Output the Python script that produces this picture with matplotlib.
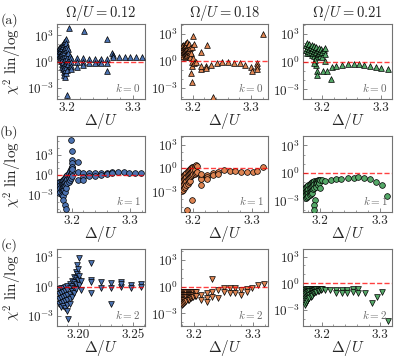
import numpy as np
import matplotlib
matplotlib.use('Agg')
from matplotlib import pyplot as plt
from matplotlib.ticker import FixedLocator, MultipleLocator, NullFormatter, LogFormatterSciNotation

plt.rcParams['font.family'] = 'serif'
plt.rcParams['font.serif'] = ['cmr10', 'DejaVu Serif']
plt.rcParams['mathtext.fontset'] = 'cm'
plt.rcParams['axes.formatter.use_mathtext'] = True

# ---- data: Delta/U and log10(chi^2) for each panel ----
# row 1 (k = 0)
delta_a = [3.187, 3.187, 3.188, 3.188, 3.189, 3.189, 3.189, 3.190, 3.190, 3.190, 3.191, 3.191, 3.191,
           3.192, 3.192, 3.192, 3.192, 3.193, 3.193, 3.193, 3.193, 3.194, 3.194, 3.194, 3.194,
           3.195, 3.195, 3.195, 3.195, 3.195, 3.196, 3.196, 3.196, 3.196, 3.197, 3.197, 3.197, 3.197, 3.197,
           3.198, 3.198, 3.198, 3.198, 3.199, 3.199, 3.199, 3.200, 3.200, 3.200, 3.201, 3.201, 3.202, 3.202,
           3.204, 3.204,
           3.200, 3.203, 3.226, 3.260, 3.260, 3.248,
           3.206, 3.206, 3.206, 3.206, 3.215, 3.215, 3.215, 3.224, 3.224, 3.224, 3.233, 3.233, 3.242, 3.242,
           3.251, 3.251, 3.260, 3.260,
           3.268, 3.269, 3.270, 3.279, 3.288, 3.296, 3.305, 3.314]
logchi_a = [1.3, 0.9, 1.6, 0.6, 1.4, 1.0, 0.3, 1.7, 1.2, 0.7, 1.5, 0.9, 0.1,
            1.9, 1.3, 0.5, -0.3, 1.6, 1.0, 0.2, -0.6, 1.8, 1.2, -0.1, -0.9,
            2.0, 1.4, 0.6, -0.4, -1.2, 2.2, 1.1, -0.7, -1.5, 2.4, 1.6, 0.3, -1.0, -1.8,
            2.6, 1.3, -0.2, -1.3, 2.1, 0.8, -0.6, 1.7, 0.4, -1.0, 1.4, 0.1, 1.0, -0.3,
            0.6, -0.5,
            -3.8, 3.86, 3.5, 2.55, -1.07, 0.0,
            0.4, -0.1, -0.5, -0.9, 0.35, -0.1, -0.6, 0.35, -0.1, -0.4, 0.3, -0.15, 0.3, -0.15,
            0.3, -0.2, 0.3, -0.2,
            1.0, 0.75, 0.5, 0.55, 0.5, 0.5, 0.5, 0.5]

delta_b = [3.181, 3.181, 3.182, 3.182, 3.182, 3.183, 3.183, 3.184, 3.184, 3.184, 3.185, 3.185,
           3.186, 3.186, 3.186, 3.187, 3.187, 3.187, 3.188, 3.188, 3.188, 3.189, 3.189, 3.189,
           3.190, 3.190, 3.191, 3.191, 3.191, 3.192, 3.192, 3.193, 3.193, 3.194, 3.194, 3.195, 3.195,
           3.196, 3.197, 3.198,
           3.200, 3.202, 3.224, 3.214, 3.198, 3.199, 3.197, 3.199, 3.234, 3.201, 3.203,
           3.205, 3.214, 3.214, 3.222, 3.222, 3.231, 3.241, 3.251, 3.261, 3.271, 3.281, 3.290,
           3.300, 3.301, 3.310, 3.311, 3.311,
           3.320]
logchi_b = [1.4, 1.0, 1.7, 1.2, 0.7, 1.5, 1.0, 1.8, 1.3, 0.6, 1.6, 1.1,
            1.9, 1.4, 0.8, 1.7, 1.2, 0.5, 2.0, 1.5, 0.9, 1.8, 1.3, 0.6,
            1.6, 1.0, 2.1, 1.4, 0.7, 1.8, 1.1, 1.5, 0.8, 1.9, 1.2, 1.0, 0.4,
            1.4, 0.9, 1.6,
            2.8, 1.9, 1.8, 1.0, -0.15, -0.5, -1.3, -2.3, -4.0, 0.3, -0.2,
            -0.1, -0.86, -0.6, -0.57, -0.8, -0.4, -0.2, -0.1, -0.1, -0.2, -0.25, -0.45,
            -0.7, -1.1, -0.25, -0.55, -0.85,
            3.0]

delta_c = [3.172, 3.172, 3.174, 3.174, 3.174, 3.176, 3.176, 3.178, 3.178, 3.178, 3.180, 3.180,
           3.182, 3.182, 3.182, 3.184, 3.184, 3.186, 3.186, 3.186, 3.188, 3.188, 3.190, 3.190, 3.190,
           3.192, 3.192, 3.194, 3.194, 3.196, 3.196, 3.198, 3.198, 3.200, 3.200, 3.203, 3.205, 3.205, 3.205,
           3.190, 3.191, 3.191, 3.202, 3.208, 3.214, 3.188, 3.186,
           3.216, 3.224, 3.233, 3.243, 3.254, 3.263, 3.271, 3.282, 3.291, 3.301, 3.312]
logchi_c = [1.8, 1.3, 2.0, 1.5, 1.0, 1.7, 1.2, 1.9, 1.4, 0.9, 1.6, 1.1,
            1.8, 1.3, 0.7, 1.5, 1.0, 1.7, 1.2, 0.6, 1.4, 0.9, 1.6, 1.1, 0.5,
            1.3, 0.8, 1.5, 1.0, 1.2, 0.6, 1.4, 0.9, 1.1, 0.5, 1.3, 1.5, 0.8, 0.1,
            -0.4, -1.0, -1.45, -1.0, -1.0, -1.9, 0.2, -0.1,
            -0.6, -0.43, -0.36, -0.25, -0.25, -0.25, -0.33, -0.43, -0.54, -0.68, -0.8]

# row 2 (k = 1)
delta_d = [3.177, 3.177, 3.177, 3.179, 3.179, 3.179, 3.179, 3.181, 3.181, 3.181, 3.181,
           3.183, 3.183, 3.183, 3.183, 3.183, 3.185, 3.185, 3.185, 3.185, 3.185,
           3.187, 3.187, 3.187, 3.187, 3.189, 3.189, 3.189, 3.189, 3.191, 3.191, 3.191, 3.191,
           3.193, 3.193, 3.193, 3.195, 3.195, 3.195, 3.197, 3.197, 3.197, 3.199, 3.199, 3.199,
           3.201, 3.201, 3.201,
           3.199, 3.201, 3.201, 3.201, 3.201, 3.201, 3.211, 3.211, 3.211,
           3.186, 3.188, 3.191,
           3.220, 3.230, 3.240, 3.250, 3.260, 3.270, 3.280, 3.290, 3.299, 3.309, 3.319,
           3.220, 3.220, 3.230, 3.240, 3.250, 3.260, 3.270]
logchi_d = [-1.3, -1.9, -2.4, -1.1, -1.6, -2.1, -2.7, -1.0, -1.5, -2.0, -2.5,
            -0.9, -1.4, -1.9, -2.4, -2.9, -0.8, -1.3, -1.8, -2.3, -3.1,
            -0.6, -1.2, -1.7, -2.2, -0.4, -1.0, -1.6, -2.6, -0.2, -0.8, -1.4, -2.0,
            0.0, -0.6, -1.2, 0.3, -0.4, -1.0, 0.6, -0.2, -0.8, 0.9, 0.1, -0.5,
            1.2, 0.4, -0.2,
            5.2, 3.5, 2.2, 1.75, 1.24, 0.85, 2.0, 0.5, -0.75,
            -3.7, -4.5, -5.0,
            0.35, 0.25, 0.25, 0.25, 0.35, 0.5, 0.5, 0.4, 0.35, 0.35, 0.3,
            -0.25, -0.75, -0.15, -0.15, 0.0, 0.1, 0.3]

delta_e = [3.181, 3.181, 3.181, 3.181, 3.183, 3.183, 3.183, 3.183, 3.185, 3.185, 3.185, 3.185,
           3.187, 3.187, 3.187, 3.187, 3.189, 3.189, 3.189, 3.189, 3.191, 3.191, 3.191, 3.191,
           3.193, 3.193, 3.193, 3.193, 3.195, 3.195, 3.195, 3.195, 3.197, 3.197, 3.197,
           3.199, 3.199, 3.199, 3.201, 3.201, 3.201, 3.203, 3.203, 3.203, 3.205, 3.205, 3.207, 3.207,
           3.198, 3.190, 3.214,
           3.214, 3.224, 3.234, 3.243, 3.253, 3.263, 3.272, 3.281, 3.291, 3.301, 3.309, 3.319,
           3.214, 3.224, 3.224, 3.234, 3.243, 3.214]
logchi_e = [-1.2, -1.8, -2.4, -2.9, -1.0, -1.6, -2.2, -2.8, -0.9, -1.4, -2.0, -2.6,
            -0.7, -1.2, -1.8, -2.4, -0.6, -1.1, -1.6, -2.2, -0.4, -0.9, -1.4, -2.0,
            -0.3, -0.8, -1.3, -1.8, -0.1, -0.6, -1.1, -1.6, 0.0, -0.5, -1.0,
            0.1, -0.4, -0.9, 0.2, -0.3, -0.8, 0.3, -0.2, -0.7, 0.35, -0.6, 0.3, -0.5,
            -4.1, -5.3, -2.2,
            -1.1, -0.9, -0.6, -0.47, -0.26, -0.35, -0.43, -0.47, -0.55, -0.55, -0.35, 0.17,
            -1.45, -1.1, -1.35, -0.9, -0.7, -0.8]

delta_f = [3.175, 3.175, 3.175, 3.177, 3.177, 3.177, 3.177, 3.179, 3.179, 3.179, 3.179,
           3.181, 3.181, 3.181, 3.181, 3.183, 3.183, 3.183, 3.183, 3.185, 3.185, 3.185, 3.185,
           3.187, 3.187, 3.187, 3.187, 3.189, 3.189, 3.189, 3.191, 3.191, 3.191, 3.193, 3.193, 3.193,
           3.195, 3.195, 3.197, 3.197, 3.199, 3.199, 3.201, 3.201, 3.203,
           3.192, 3.191, 3.190,
           3.208, 3.218, 3.227, 3.236, 3.246, 3.256, 3.264, 3.273, 3.283, 3.293, 3.303, 3.312]
logchi_f = [-1.6, -2.0, -2.4, -1.5, -1.9, -2.3, -2.7, -1.4, -1.8, -2.2, -2.6,
            -1.3, -1.7, -2.1, -2.5, -1.2, -1.6, -2.0, -2.4, -1.1, -1.5, -1.9, -2.3,
            -1.0, -1.4, -1.8, -2.2, -1.0, -1.3, -1.7, -0.9, -1.2, -1.6, -0.9, -1.2, -1.5,
            -0.85, -1.1, -0.8, -1.3, -0.8, -1.1, -0.8, -1.6, -0.8,
            -2.9, -3.4, -4.0,
            -0.83, -0.75, -0.68, -0.65, -0.57, -0.5, -0.46, -0.5, -0.65, -0.94, -1.29, -2.47]

# row 3 (k = 2)
delta_g = [3.182, 3.182, 3.182, 3.182, 3.184, 3.184, 3.184, 3.184, 3.184, 3.186, 3.186, 3.186, 3.186, 3.186,
           3.188, 3.188, 3.188, 3.188, 3.188, 3.190, 3.190, 3.190, 3.190, 3.190, 3.190,
           3.192, 3.192, 3.192, 3.192, 3.192, 3.194, 3.194, 3.194, 3.194, 3.196, 3.196, 3.196, 3.196,
           3.198, 3.198, 3.198, 3.198, 3.199, 3.199, 3.200, 3.200, 3.201, 3.201, 3.202, 3.202,
           3.2006, 3.2115, 3.2115, 3.2115, 3.2115, 3.2297, 3.1909,
           3.2206, 3.2294, 3.2385, 3.2479, 3.2570, 3.2206, 3.2294, 3.2385, 3.2385, 3.2479, 3.2570]
logchi_g = [-0.3, -0.8, -1.3, -1.8, -0.2, -0.7, -1.2, -1.7, -2.1, -0.1, -0.6, -1.1, -1.6, -2.0,
            0.0, -0.5, -1.0, -1.5, -2.2, 0.1, -0.4, -0.9, -1.4, -1.9, -2.5,
            0.3, -0.2, -0.8, -1.3, -1.8, 0.6, 0.1, -0.5, -1.1, 1.0, 0.5, -0.1, -0.7,
            1.5, 0.9, 0.3, -0.3, 2.2, 1.3, 1.8, 0.7, 1.1, 0.2, 0.6, -0.4,
            2.9, 2.36, 0.68, 0.45, -0.67, -1.78, -3.26,
            0.5, 0.34, 0.44, 0.17, 0.24, -0.1, -0.16, 0.0, 0.25, -0.1, 0.0]

delta_h = [3.179, 3.179, 3.179, 3.179, 3.179, 3.181, 3.181, 3.181, 3.181, 3.181,
           3.183, 3.183, 3.183, 3.183, 3.183, 3.185, 3.185, 3.185, 3.185, 3.187, 3.187, 3.187, 3.187,
           3.189, 3.189, 3.189, 3.189, 3.191, 3.191, 3.191, 3.191, 3.193, 3.193, 3.193,
           3.195, 3.195, 3.195, 3.197, 3.197, 3.197, 3.199, 3.199, 3.199, 3.201, 3.201, 3.203, 3.203,
           3.231,
           3.212, 3.212, 3.222, 3.222, 3.222, 3.231, 3.231, 3.241, 3.241, 3.250, 3.250, 3.260, 3.260,
           3.270, 3.270, 3.279, 3.279, 3.289, 3.289, 3.298, 3.308, 3.319]
logchi_h = [-0.6, -0.9, -1.2, -1.6, -2.0, -0.6, -0.9, -1.2, -1.5, -1.9,
            -0.6, -0.9, -1.2, -1.5, -1.8, -0.6, -0.9, -1.2, -1.7, -0.6, -0.9, -1.2, -1.6,
            -0.6, -0.9, -1.2, -1.5, -0.6, -0.9, -1.2, -1.45, -0.6, -0.9, -1.3,
            -0.6, -0.9, -1.25, -0.6, -0.9, -1.2, -0.6, -0.9, -1.15, -0.6, -1.1, -0.6, -1.05,
            0.83,
            -0.93, -1.5, -0.74, -1.3, -1.7, -0.56, -1.12, -0.37, -1.3, -0.18, -0.56, -0.18, -0.74,
            -0.18, -0.74, -0.37, -0.93, -0.26, -0.56, -0.11, 0.19, 0.27]

delta_i = [3.171, 3.171, 3.171, 3.171, 3.173, 3.173, 3.173, 3.173, 3.175, 3.175, 3.175, 3.175,
           3.177, 3.177, 3.177, 3.177, 3.179, 3.179, 3.179, 3.179, 3.181, 3.181, 3.181, 3.181,
           3.183, 3.183, 3.183, 3.183, 3.185, 3.185, 3.185, 3.187, 3.187, 3.187, 3.189, 3.189, 3.189,
           3.191, 3.191, 3.193, 3.193, 3.195, 3.195, 3.197, 3.199, 3.199, 3.201,
           3.206, 3.214, 3.224, 3.224, 3.234, 3.234, 3.243, 3.243, 3.253, 3.253, 3.262, 3.262,
           3.274, 3.286, 3.294, 3.303, 3.314]
logchi_i = [-0.7, -1.2, -1.8, -2.4, -0.65, -1.1, -1.6, -2.2, -0.6, -1.0, -1.5, -2.0,
            -0.6, -1.0, -1.4, -1.8, -0.6, -0.9, -1.3, -1.7, -0.6, -0.9, -1.2, -1.5,
            -0.6, -0.85, -1.15, -1.4, -0.6, -0.85, -1.1, -0.6, -0.8, -1.05, -0.6, -0.8, -1.0,
            -0.6, -0.95, -0.6, -0.9, -0.6, -0.85, -0.6, -0.6, -0.8, -0.65,
            -0.75, -0.75, -0.75, -1.12, -0.75, -1.12, -0.75, -1.06, -0.67, -0.94, -0.67, -1.06,
            -1.12, -2.25, -1.5, -1.01, -4.2]

omegas = ['0.12', '0.18', '0.21']
ks = [0, 1, 2]
row_letters = ['(a)', '(b)', '(c)']
colors = ['#4C72B0', '#DD8452', '#55A868']
markers = ['^', 'o', 'v']

panels = [[(delta_a, logchi_a), (delta_b, logchi_b), (delta_c, logchi_c)],
          [(delta_d, logchi_d), (delta_e, logchi_e), (delta_f, logchi_f)],
          [(delta_g, logchi_g), (delta_h, logchi_h), (delta_i, logchi_i)]]

xlims = [[(3.185, 3.318), (3.180, 3.329), (3.167, 3.319)],
         [(3.175, 3.326), (3.180, 3.327), (3.172, 3.320)],
         [(3.1806, 3.2606), (3.178, 3.325), (3.168, 3.320)]]
ylims = [[(-4.3, 4.3), (-4.2, 4.1), (-4.05, 4.1)],
         [(-5.5, 5.8), (-5.6, 4.1), (-4.2, 4.0)],
         [(-4.0, 3.8), (-4.4, 4.2), (-4.8, 3.85)]]

# axes boxes in pixels (x0, x1) and (y0, y1) from top
W, H = 396, 360
cols_px = [(57, 145), (181, 268), (303, 392)]
rows_px = [(24, 99), (136, 212), (249, 326)]

fig = plt.figure(figsize=(W / 100, H / 100), dpi=100)

for r in range(3):
    for c in range(3):
        x0, x1 = cols_px[c]
        y0, y1 = rows_px[r]
        ax = fig.add_axes([x0 / W, 1 - y1 / H, (x1 - x0) / W, (y1 - y0) / H])
        xs, ls = panels[r][c]
        ax.scatter(xs, 10 ** np.array(ls), marker=markers[r], s=17, c=colors[c],
                   edgecolors='k', linewidths=0.5, zorder=3)
        ax.axhline(1.0, color='red', ls='--', lw=1.0, alpha=0.75, zorder=4)
        ax.set_yscale('log')
        ax.set_xlim(*xlims[r][c])
        lo, hi = ylims[r][c]
        ax.set_ylim(10 ** lo, 10 ** hi)
        ax.yaxis.set_major_locator(FixedLocator([1e-3, 1e0, 1e3]))
        ax.yaxis.set_major_formatter(LogFormatterSciNotation())
        ax.yaxis.set_minor_locator(FixedLocator([10.0 ** e for e in range(-6, 7) if e % 3 != 0]))
        ax.yaxis.set_minor_formatter(NullFormatter())
        if r == 2 and c == 0:
            ax.xaxis.set_major_locator(FixedLocator([3.20, 3.25]))
            ax.set_xticklabels(['3.20', '3.25'])
            ax.xaxis.set_minor_locator(MultipleLocator(0.01))
        else:
            ax.xaxis.set_major_locator(FixedLocator([3.2, 3.3]))
            ax.set_xticklabels(['3.2', '3.3'])
            ax.xaxis.set_minor_locator(MultipleLocator(0.02))
        ax.tick_params(which='both', direction='in', color='0.45', labelsize=9.5,
                       labelcolor='0.15')
        ax.tick_params(which='major', length=3, width=0.6, pad=2)
        ax.tick_params(which='minor', length=1.6, width=0.5)
        for sp in ax.spines.values():
            sp.set_color('0.45')
            sp.set_linewidth(0.8)
        ax.set_xlabel(r'$\Delta/U$', fontsize=11, labelpad=-2, color='0.15')
        ax.text(0.95, 0.07, r'$k = %d$' % ks[r], transform=ax.transAxes,
                ha='right', va='bottom', fontsize=8, color='0.4')
        if r == 0:
            ax.set_title(r'$\Omega/U = %s$' % omegas[c], fontsize=10.5, pad=5, color='0.15')
        if c == 0:
            ax.set_ylabel(r'$\chi^2\ \mathrm{lin}/\log$', fontsize=11, color='0.15')
            ax.yaxis.set_label_coords(-0.37, 0.5)

for r in range(3):
    y_letter = [20, 132, 245][r]
    fig.text(9 / W, 1 - y_letter / H, row_letters[r], fontsize=10, ha='center', va='center',
             color='0.15')

fig.savefig('out.png', dpi=100)
